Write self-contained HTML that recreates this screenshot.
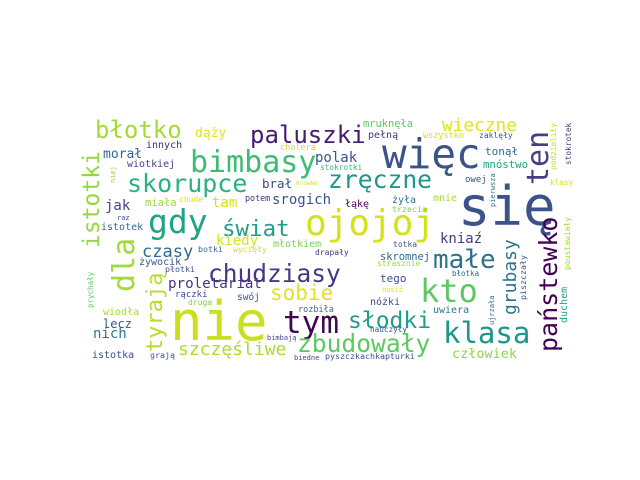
<!DOCTYPE html>
<html><head><meta charset="utf-8"><style>
html,body{margin:0;padding:0;background:#fff;width:640px;height:480px;overflow:hidden}
svg text{font-family:"DejaVu Sans Mono","Liberation Mono",monospace}
</style></head><body>
<svg width="640" height="480" viewBox="0 0 640 480" xmlns="http://www.w3.org/2000/svg">
<rect width="640" height="480" fill="#fff"/>
<g>
<text x="95" y="138" font-size="24" fill="#a5db36">błotko</text>
<text x="250" y="143" font-size="24" fill="#481a6c">paluszki</text>
<text x="195" y="137" font-size="13" fill="#e5e419">dąży</text>
<text x="146" y="148" font-size="10" fill="#472c7a">innych</text>
<text x="103" y="158" font-size="13" fill="#31688e">morał</text>
<text x="127" y="167" font-size="10" fill="#414487">wiotkiej</text>
<text x="280" y="150" font-size="8.5" fill="#d0e11c">cholera</text>
<text x="190" y="172" font-size="30" fill="#3fbc73">bimbasy</text>
<text x="127" y="192" font-size="25" fill="#2db27d">skorupce</text>
<text x="262" y="188" font-size="12.5" fill="#3e4a89">brał</text>
<text x="272" y="204" font-size="14" fill="#3b528b">srogich</text>
<text x="105" y="210" font-size="14" fill="#414487">jak</text>
<text x="212" y="207" font-size="14" fill="#d8e219">tam</text>
<text x="145" y="206" font-size="10.5" fill="#a0da39">miała</text>
<text x="179" y="202" font-size="8" fill="#dfe318">chude</text>
<text x="245" y="201" font-size="8.4" fill="#46337e">potem</text>
<text x="117" y="220" font-size="7" fill="#3e4a89">raz</text>
<text x="101" y="230" font-size="10" fill="#31688e">istotek</text>
<text x="148" y="233" font-size="33" fill="#20a386">gdy</text>
<text x="222" y="236" font-size="22.5" fill="#1f9e89">świat</text>
<text x="305" y="235" font-size="36" fill="#d2e21b">ojojoj</text>
<text x="363" y="127" font-size="10.4" fill="#5ec962">mruknęła</text>
<text x="442" y="131" font-size="17.8" fill="#e2e418">wieczne</text>
<text x="368" y="138" font-size="10" fill="#46337e">pełną</text>
<text x="423" y="138" font-size="8.5" fill="#d8e219">wszystko</text>
<text x="479" y="138" font-size="8" fill="#3b528b">zaklęły</text>
<text x="382" y="168" font-size="41" fill="#3b528b">więc</text>
<text x="315" y="162" font-size="14" fill="#3b528b">polak</text>
<text x="485" y="155" font-size="11" fill="#2c728e">tonął</text>
<text x="483" y="168" font-size="10.7" fill="#20a386">mnóstwo</text>
<text x="320" y="170" font-size="7.8" fill="#35b779">stokrotki</text>
<text x="296" y="185" font-size="6" fill="#d8e219">krowko</text>
<text x="328" y="188" font-size="24.7" fill="#1f968b">zręczne</text>
<text x="465" y="182" font-size="9" fill="#3e4a89">owej</text>
<text x="458" y="225" font-size="54" fill="#3b528b">się</text>
<text x="392" y="203" font-size="10" fill="#2c728e">żyła</text>
<text x="433" y="201" font-size="10" fill="#a8db34">mnie</text>
<text x="345" y="207" font-size="10" fill="#440154">łąkę</text>
<text x="392" y="212" font-size="8.3" fill="#7ad151">trzecia</text>
<text x="550" y="185" font-size="7.7" fill="#d8e219">klasy</text>
<text x="440" y="243" font-size="14" fill="#443983">kniaź</text>
<text x="216" y="245" font-size="14" fill="#d8e219">kiedy</text>
<text x="142" y="257" font-size="17" fill="#31688e">czasy</text>
<text x="273" y="247" font-size="10" fill="#7ad151">młotkiem</text>
<text x="198" y="252" font-size="8.3" fill="#31688e">botki</text>
<text x="233" y="252" font-size="8" fill="#d0e11c">wycięły</text>
<text x="139" y="265" font-size="10" fill="#39568c">żywocik</text>
<text x="208" y="282" font-size="24.5" fill="#453781">chudziasy</text>
<text x="165" y="272" font-size="8.3" fill="#3b528b">płotki</text>
<text x="168" y="288" font-size="14.2" fill="#46337e">proletariat</text>
<text x="175" y="297" font-size="9" fill="#3e4a89">rączki</text>
<text x="237" y="300" font-size="9.5" fill="#3b528b">swój</text>
<text x="188" y="305" font-size="8" fill="#7ad151">druga</text>
<text x="270" y="300" font-size="21" fill="#e5e419">sobie</text>
<text x="103" y="315" font-size="10" fill="#a0da39">wiodła</text>
<text x="298" y="312" font-size="8.5" fill="#2c728e">rozbiła</text>
<text x="170" y="340" font-size="54" fill="#c8e020">nie</text>
<text x="283" y="333" font-size="31" fill="#3e0751">tym</text>
<text x="103" y="328" font-size="12" fill="#3b528b">lecz</text>
<text x="93" y="338" font-size="14" fill="#2a788e">nich</text>
<text x="267" y="340" font-size="7" fill="#3e4a89">bimbają</text>
<text x="178" y="355" font-size="18" fill="#addc30">szczęśliwe</text>
<text x="92" y="358" font-size="10" fill="#3e4a89">istotka</text>
<text x="150" y="358" font-size="8.3" fill="#3b528b">grają</text>
<text x="294" y="360" font-size="7" fill="#3e4a89">biedne</text>
<text x="315" y="255" font-size="8" fill="#46337e">drapały</text>
<text x="393" y="247" font-size="8" fill="#3b528b">totka</text>
<text x="380" y="260" font-size="10.4" fill="#31688e">skromnej</text>
<text x="433" y="268" font-size="26" fill="#2c728e">małe</text>
<text x="377" y="266" font-size="8" fill="#a0da39">strasznie</text>
<text x="380" y="282" font-size="11" fill="#3b528b">tego</text>
<text x="452" y="276" font-size="7.5" fill="#31688e">błotka</text>
<text x="420" y="302" font-size="32" fill="#5ec962">kto</text>
<text x="382" y="292" font-size="7" fill="#d8e219">nosić</text>
<text x="370" y="305" font-size="10" fill="#3e4a89">nóżki</text>
<text x="348" y="328" font-size="23" fill="#1f9e89">słodki</text>
<text x="433" y="313" font-size="10" fill="#2a788e">uwiera</text>
<text x="370" y="332" font-size="7.7" fill="#3b528b">nauczyły</text>
<text x="443" y="343" font-size="29" fill="#1f968b">klasa</text>
<text x="297" y="352" font-size="24.6" fill="#5ec962">zbudowały</text>
<text x="452" y="358" font-size="13.5" fill="#8fd744">człowiek</text>
<text x="325" y="359" font-size="8.3" fill="#3b528b">pyszczkachkapturki</text>

<text transform="translate(99,248) rotate(-90)" font-size="23" fill="#93d741">istotki</text>
<text transform="translate(134,292) rotate(-90)" font-size="30" fill="#a2da37">dla</text>
<text transform="translate(162,352) rotate(-90)" font-size="22" fill="#b5de2b">tyrają</text>
<text transform="translate(115,183) rotate(-90)" font-size="7" fill="#a0da39">niej</text>
<text transform="translate(93,308) rotate(-90)" font-size="7.5" fill="#5ec962">prychały</text>
<text transform="translate(548,185) rotate(-90)" font-size="30" fill="#433e85">ten</text>
<text transform="translate(556,170) rotate(-90)" font-size="7.8" fill="#c2df23">podzieliły</text>
<text transform="translate(571,165) rotate(-90)" font-size="7.8" fill="#433e85">stokrotek</text>
<text transform="translate(495,207) rotate(-90)" font-size="7" fill="#2a788e">pierwsza</text>
<text transform="translate(516,315) rotate(-90)" font-size="18" fill="#2c728e">grubasy</text>
<text transform="translate(526,300) rotate(-90)" font-size="8.3" fill="#3b528b">piszczały</text>
<text transform="translate(557,352) rotate(-90)" font-size="25" fill="#440154">państewko</text>
<text transform="translate(494,325) rotate(-90)" font-size="7" fill="#31688e">ujrzała</text>
<text transform="translate(567,323) rotate(-90)" font-size="10" fill="#20a386">duchem</text>
<text transform="translate(570,270) rotate(-90)" font-size="8" fill="#a0da39">poustawiały</text>
</g>
</svg>
</body></html>
